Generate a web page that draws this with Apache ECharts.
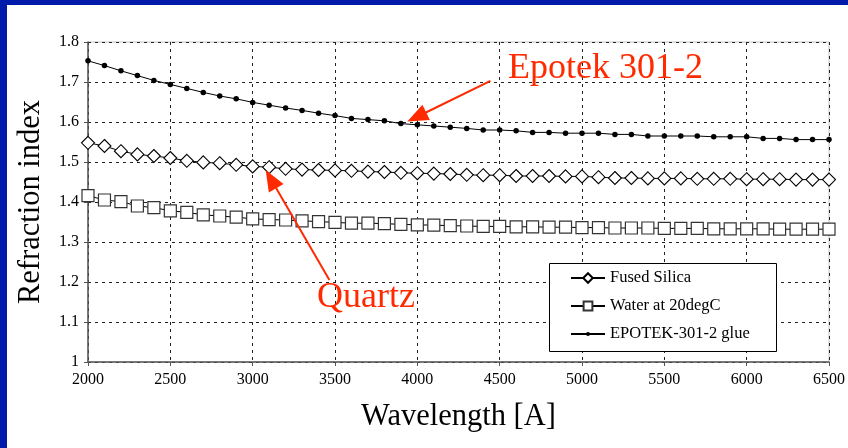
<!DOCTYPE html>
<html>
<head>
<meta charset="utf-8">
<script src="https://cdn.jsdelivr.net/npm/echarts@6/dist/echarts.min.js"></script>
<style>
html,body{margin:0;padding:0;background:#fff;overflow:hidden;}
#chart{width:848px;height:448px;}
</style>
</head>
<body>
<div id="chart"></div>
<script>
// Wavelength [A]
const wavelengths = [2000,2100,2200,2300,2400,2500,2600,2700,2800,2900,
  3000,3100,3200,3300,3400,3500,3600,3700,3800,3900,
  4000,4100,4200,4300,4400,4500,4600,4700,4800,4900,
  5000,5100,5200,5300,5400,5500,5600,5700,5800,5900,
  6000,6100,6200,6300,6400,6500];

const fusedSilica = [1.548,1.540,1.527,1.519,1.515,1.510,1.503,1.499,1.497,1.493,
  1.489,1.487,1.483,1.481,1.480,1.479,1.478,1.476,1.475,1.473,
  1.472,1.471,1.470,1.468,1.467,1.467,1.465,1.465,1.465,1.464,
  1.464,1.462,1.460,1.460,1.459,1.459,1.459,1.458,1.458,1.458,
  1.457,1.457,1.457,1.456,1.456,1.456];

const water20 = [1.416,1.405,1.401,1.390,1.386,1.378,1.374,1.368,1.365,1.362,
  1.358,1.356,1.355,1.353,1.351,1.349,1.347,1.347,1.346,1.344,
  1.343,1.342,1.341,1.340,1.339,1.339,1.338,1.338,1.337,1.337,
  1.336,1.336,1.335,1.335,1.335,1.334,1.334,1.334,1.333,1.333,
  1.333,1.333,1.332,1.332,1.332,1.332];

const epotek = [1.753,1.741,1.728,1.716,1.704,1.694,1.684,1.674,1.665,1.658,
  1.649,1.642,1.635,1.629,1.622,1.616,1.609,1.606,1.603,1.596,
  1.593,1.590,1.587,1.584,1.580,1.580,1.578,1.574,1.574,1.572,
  1.572,1.572,1.569,1.569,1.565,1.565,1.565,1.565,1.563,1.563,
  1.563,1.559,1.559,1.556,1.556,1.556];

const seriesNames = ['Fused Silica','Water at 20degC','EPOTEK-301-2 glue'];
const xTicks = {min:2000, max:6500, interval:500};
const yTicks = {min:1, max:1.8, interval:0.1};

// annotation anchors in data coordinates: [tail, tip]
const epotekArrow = [[4444,1.703],[3939,1.601]];
const quartzArrow = [[3466,1.205],[3079,1.480]];

const pairs = (ys) => wavelengths.map((x,i)=>[x, ys[i]]);

const FONT = 'Liberation Serif';
const chart = echarts.init(document.getElementById('chart'), null, {renderer:'canvas'});

const legendText = {fontFamily:FONT, fontSize:16.5, color:'#000', lineHeight:20};
function mkLegend(name, top, h){
  return {
    data:[name], left:570, top:top, orient:'vertical', padding:0,
    itemWidth:34, itemHeight:h, itemGap:0, selectedMode:false,
    textStyle:legendText, z:5
  };
}

const option = {
  animation:false,
  backgroundColor:'#fff',
  grid:{left:88, top:42, width:745, height:320, show:true, borderColor:'#c4c4c4', borderWidth:1, backgroundColor:'transparent'},
  xAxis:{
    type:'value', min:xTicks.min, max:xTicks.max, interval:xTicks.interval,
    name:'Wavelength [A]', nameLocation:'middle', nameGap:39,
    nameTextStyle:{fontFamily:FONT, fontSize:30.5, color:'#000'},
    axisLine:{show:true, onZero:false, lineStyle:{color:'#555', width:1.5}},
    axisTick:{show:true, length:4, lineStyle:{color:'#555', width:1}},
    axisLabel:{fontFamily:FONT, fontSize:16, color:'#000', margin:10,
      formatter:(v)=> String(v)},
    splitLine:{show:true, lineStyle:{color:'#222', type:[3,4], width:1}}
  },
  yAxis:{
    type:'value', min:yTicks.min, max:yTicks.max, interval:yTicks.interval,
    name:'Refraction index', nameLocation:'middle', nameGap:42,
    nameTextStyle:{fontFamily:FONT, fontSize:30.5, color:'#000'},
    axisLine:{show:true, onZero:false, lineStyle:{color:'#555', width:1.5}},
    axisTick:{show:true, length:4, lineStyle:{color:'#555', width:1}},
    axisLabel:{fontFamily:FONT, fontSize:16, color:'#000', margin:9,
      formatter:(v)=> String(Math.round(v*10)/10)},
    splitLine:{show:true, lineStyle:{color:'#222', type:[3,4], width:1}}
  },
  legend:[
    mkLegend(seriesNames[0], 268, 12),
    mkLegend(seriesNames[1], 296, 11),
    mkLegend(seriesNames[2], 324, 5)
  ],
  series:[
    {
      name:seriesNames[0], type:'line', data:pairs(fusedSilica),
      symbol:'diamond', symbolSize:13, showAllSymbol:true,
      lineStyle:{color:'#000', width:1},
      itemStyle:{color:'#fff', borderColor:'#000', borderWidth:1.1}
    },
    {
      name:seriesNames[1], type:'line', data:pairs(water20),
      symbol:'rect', symbolSize:12, showAllSymbol:true,
      lineStyle:{color:'#000', width:1},
      itemStyle:{color:'#fff', borderColor:'#333', borderWidth:1.2}
    },
    {
      name:seriesNames[2], type:'line', data:pairs(epotek),
      symbol:'circle', symbolSize:5.5, showAllSymbol:true,
      lineStyle:{color:'#000', width:1},
      itemStyle:{color:'#000', borderWidth:0}
    }
  ]
};
chart.setOption(option);

// annotations
const RED = '#ff2a00';
function arrowElems(anchor){
  const t0 = chart.convertToPixel({gridIndex:0}, anchor[0]);
  const t1 = chart.convertToPixel({gridIndex:0}, anchor[1]);
  const dx = t1[0]-t0[0], dy = t1[1]-t0[1];
  const len = Math.sqrt(dx*dx+dy*dy);
  const ux = dx/len, uy = dy/len;
  const L = 21, W = 8.5;
  const bx = t1[0]-ux*L, by = t1[1]-uy*L;
  return [
    {type:'line', shape:{x1:t0[0], y1:t0[1], x2:bx+ux*2, y2:by+uy*2},
      style:{stroke:RED, lineWidth:2}, z:20},
    {type:'polygon', shape:{points:[[t1[0],t1[1]],[bx-uy*W, by+ux*W],[bx+uy*W, by-ux*W]]},
      style:{fill:RED}, z:20}
  ];
}

const graphics = [
  {type:'rect', shape:{x:549.5, y:263.5, width:227, height:88},
    style:{fill:'#fff', stroke:'#000', lineWidth:1}, z:3},
  {type:'text', x:508, y:68.5,
    style:{text:'Epotek 301-2', fill:RED, font:'36px "Liberation Serif"', verticalAlign:'middle', align:'left'}, z:20},
  {type:'text', x:317, y:297.8,
    style:{text:'Quartz', fill:RED, font:'36px "Liberation Serif"', verticalAlign:'middle', align:'left'}, z:20},
  ...arrowElems(epotekArrow),
  ...arrowElems(quartzArrow),
  {type:'rect', shape:{x:0, y:0, width:848, height:5}, style:{fill:'#001aaa'}, z:30},
  {type:'rect', shape:{x:0, y:0, width:7, height:448}, style:{fill:'#001aaa'}, z:30}
];
chart.setOption({graphic:graphics});
</script>
</body>
</html>
